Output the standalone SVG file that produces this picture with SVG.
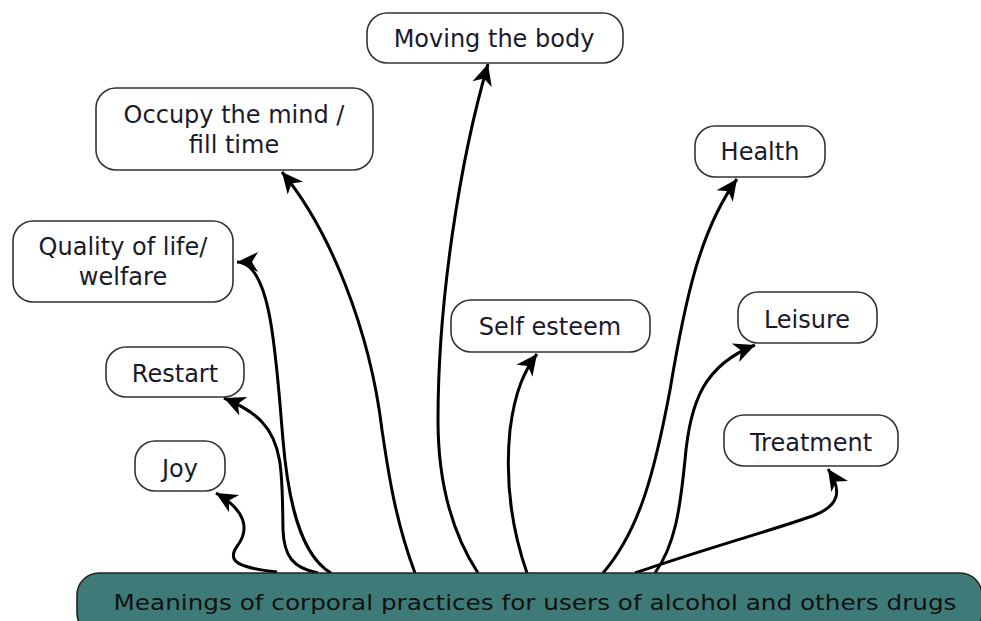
<svg xmlns="http://www.w3.org/2000/svg" width="981" height="621" viewBox="0 0 981 621">
<style>
.box{fill:#fff;stroke:#333;stroke-width:1.6}
.lbl{font-family:"DejaVu Sans",sans-serif;font-size:24px;fill:#1a1a2a;text-anchor:middle}
.con{fill:none;stroke:#000;stroke-width:3;marker-end:url(#ah)}
</style>
<defs>
<marker id="ah" markerUnits="userSpaceOnUse" markerWidth="24" markerHeight="22" refX="21" refY="10" orient="auto" overflow="visible">
<path d="M0,0 L21,10 L0,20 L6,10 z" fill="#000"/>
</marker>
</defs>
<rect width="981" height="621" fill="#fff"/>
<g id="connectors">
<path class="con" d="M277 572 C240 568 225 562 238 545 C250 528 245 510 216 493"/>
<path class="con" d="M318 573 C292 568 284 555 283 530 C282 480 284 445 262 422 C252 411 238 404 224 398"/>
<path class="con" d="M331 573 C300 555 288 500 283 440 C276 360 272 262 237 262"/>
<path class="con" d="M415 573 C395 520 388 470 382 430 C370 330 330 230 282 172"/>
<path class="con" d="M478 573 C450 530 438 480 438 420 C438 300 460 160 488 64"/>
<path class="con" d="M527 573 C512 530 505 480 510 430 C515 390 525 370 537 354"/>
<path class="con" d="M603 573 C640 530 655 470 670 390 C685 300 700 230 737 179"/>
<path class="con" d="M655 573 C675 545 680 510 685 460 C690 400 705 365 755 345"/>
<path class="con" d="M635 573 C700 550 790 525 815 515 C840 505 842 490 828 469"/>
</g>
<g id="moving"><rect class="box" x="367" y="13" width="256" height="50" rx="20"/><text class="lbl" x="494" y="47">Moving the body</text></g>
<g id="occupy"><rect class="box" x="96" y="88" width="277" height="82" rx="20"/><text class="lbl" x="234" y="123">Occupy the mind /</text><text class="lbl" x="234" y="153">fill time</text></g>
<g id="health"><rect class="box" x="695" y="126" width="130" height="51" rx="20"/><text class="lbl" x="760" y="160">Health</text></g>
<g id="quality"><rect class="box" x="13" y="221" width="220" height="81" rx="20"/><text class="lbl" x="123" y="255">Quality of life/</text><text class="lbl" x="123" y="285">welfare</text></g>
<g id="selfesteem"><rect class="box" x="451" y="300" width="199" height="52" rx="20"/><text class="lbl" x="550" y="335">Self esteem</text></g>
<g id="leisure"><rect class="box" x="738" y="292" width="139" height="51" rx="20"/><text class="lbl" x="807" y="328">Leisure</text></g>
<g id="restart"><rect class="box" x="106" y="347" width="138" height="50" rx="20"/><text class="lbl" x="175" y="382">Restart</text></g>
<g id="treatment"><rect class="box" x="724" y="415" width="174" height="51" rx="20"/><text class="lbl" x="811" y="451">Treatment</text></g>
<g id="joy"><rect class="box" x="135" y="441" width="90" height="50" rx="20"/><text class="lbl" x="180" y="477">Joy</text></g>
<g id="meanings"><rect x="77" y="573" width="905" height="62" rx="22" fill="#3e7b78" stroke="#222" stroke-width="1.6"/><text x="535" y="610" font-family="DejaVu Sans, sans-serif" font-size="22" fill="#111" text-anchor="middle" textLength="843" lengthAdjust="spacingAndGlyphs">Meanings of corporal practices for users of alcohol and others drugs</text></g>
</svg>
